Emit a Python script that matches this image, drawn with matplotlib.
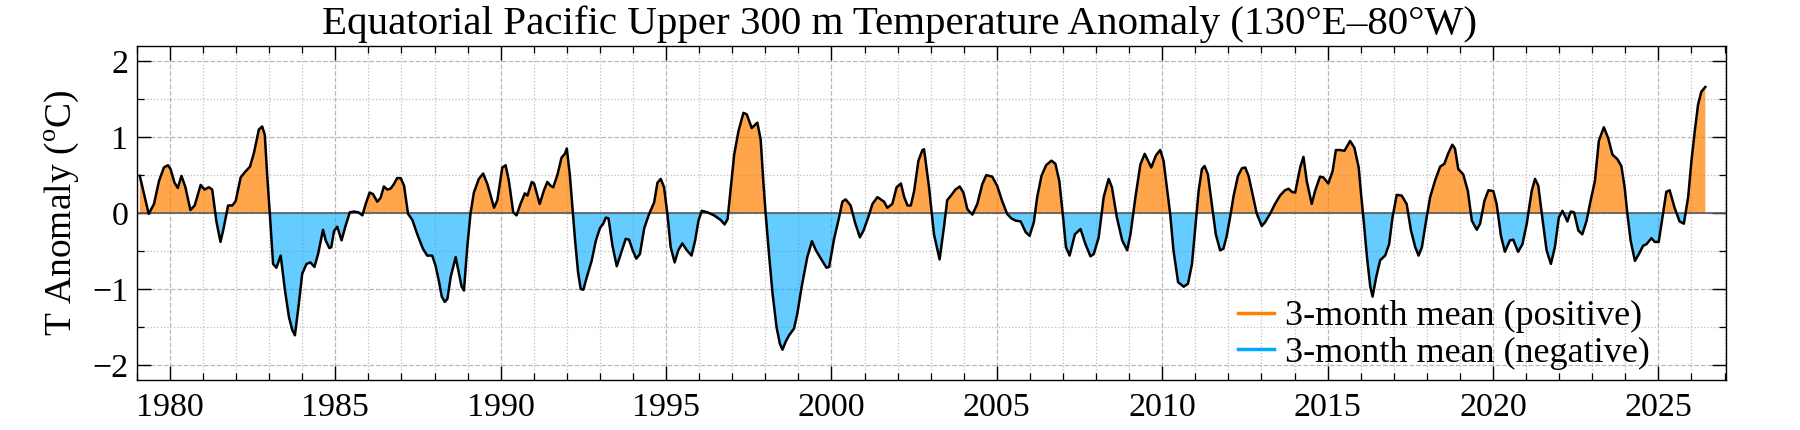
import numpy as np
import matplotlib
matplotlib.use('Agg')
from matplotlib import pyplot as plt
from matplotlib.lines import Line2D
from matplotlib.ticker import MultipleLocator

plt.rcParams['font.family'] = ['Liberation Serif', 'DejaVu Serif']
plt.rcParams['mathtext.fontset'] = 'custom'
plt.rcParams['mathtext.rm'] = 'Liberation Serif'

# 3-month mean anomaly (deg C)
year = [
    1979.09, 1979.36, 1979.52, 1979.67, 1979.82, 1979.94, 1980.02, 1980.14, 1980.24, 1980.35,
    1980.47, 1980.62, 1980.75, 1980.93, 1981.05, 1981.18, 1981.28, 1981.41, 1981.53, 1981.63,
    1981.76, 1981.89, 1981.99, 1982.14, 1982.29, 1982.42, 1982.54, 1982.69, 1982.79, 1982.87,
    1982.94, 1983.02, 1983.12, 1983.22, 1983.35, 1983.48, 1983.60, 1983.70, 1983.78, 1983.90,
    1984.00, 1984.13, 1984.25, 1984.37, 1984.48, 1984.63, 1984.71, 1984.82, 1984.88, 1984.96,
    1985.06, 1985.19, 1985.31, 1985.44, 1985.56, 1985.70, 1985.82, 1985.92, 1986.04, 1986.14,
    1986.27, 1986.37, 1986.47, 1986.57, 1986.67, 1986.77, 1986.87, 1986.98, 1987.08, 1987.20,
    1987.33, 1987.48, 1987.65, 1987.78, 1987.93, 1988.03, 1988.13, 1988.22, 1988.31, 1988.39,
    1988.49, 1988.64, 1988.74, 1988.82, 1988.89, 1988.99, 1989.09, 1989.19, 1989.34, 1989.47,
    1989.60, 1989.80, 1989.90, 1990.05, 1990.15, 1990.25, 1990.38, 1990.48, 1990.60, 1990.73,
    1990.81, 1990.94, 1991.01, 1991.18, 1991.31, 1991.41, 1991.51, 1991.59, 1991.72, 1991.84,
    1991.94, 1992.00, 1992.09, 1992.17, 1992.25, 1992.34, 1992.42, 1992.50, 1992.62, 1992.75,
    1992.88, 1993.00, 1993.10, 1993.18, 1993.26, 1993.38, 1993.51, 1993.63, 1993.78, 1993.88,
    1994.00, 1994.10, 1994.21, 1994.34, 1994.49, 1994.64, 1994.74, 1994.84, 1994.94, 1995.04,
    1995.14, 1995.26, 1995.37, 1995.49, 1995.63, 1995.77, 1995.88, 1995.98, 1996.08, 1996.25,
    1996.45, 1996.65, 1996.77, 1996.86, 1996.96, 1997.06, 1997.19, 1997.34, 1997.44, 1997.59,
    1997.76, 1997.86, 1997.94, 1998.01, 1998.12, 1998.22, 1998.34, 1998.44, 1998.52, 1998.62,
    1998.72, 1998.87, 1998.97, 1999.10, 1999.27, 1999.41, 1999.53, 1999.68, 1999.85, 1999.93,
    2000.08, 2000.23, 2000.33, 2000.43, 2000.58, 2000.71, 2000.86, 2000.97, 2001.11, 2001.24,
    2001.39, 2001.49, 2001.59, 2001.69, 2001.84, 2001.97, 2002.10, 2002.20, 2002.30, 2002.40,
    2002.50, 2002.63, 2002.75, 2002.80, 2002.90, 2002.95, 2003.10, 2003.27, 2003.40, 2003.50,
    2003.63, 2003.75, 2003.88, 2003.99, 2004.11, 2004.26, 2004.41, 2004.56, 2004.68, 2004.86,
    2005.01, 2005.16, 2005.31, 2005.44, 2005.57, 2005.72, 2005.87, 2005.99, 2006.12, 2006.22,
    2006.35, 2006.49, 2006.65, 2006.77, 2006.89, 2006.99, 2007.09, 2007.20, 2007.36, 2007.53,
    2007.68, 2007.83, 2007.93, 2008.08, 2008.23, 2008.38, 2008.48, 2008.63, 2008.79, 2008.94,
    2009.04, 2009.19, 2009.34, 2009.47, 2009.57, 2009.67, 2009.81, 2009.94, 2010.04, 2010.14,
    2010.24, 2010.34, 2010.48, 2010.65, 2010.78, 2010.90, 2011.00, 2011.10, 2011.20, 2011.28,
    2011.38, 2011.50, 2011.62, 2011.75, 2011.85, 2011.95, 2012.05, 2012.16, 2012.29, 2012.41,
    2012.51, 2012.61, 2012.71, 2012.86, 2013.01, 2013.11, 2013.26, 2013.41, 2013.56, 2013.71,
    2013.82, 2013.92, 2014.02, 2014.17, 2014.27, 2014.37, 2014.52, 2014.62, 2014.77, 2014.87,
    2015.02, 2015.15, 2015.25, 2015.38, 2015.51, 2015.68, 2015.81, 2015.94, 2016.02, 2016.09,
    2016.19, 2016.29, 2016.36, 2016.47, 2016.59, 2016.74, 2016.86, 2016.96, 2017.09, 2017.24,
    2017.39, 2017.52, 2017.65, 2017.75, 2017.85, 2017.97, 2018.10, 2018.25, 2018.40, 2018.53,
    2018.65, 2018.77, 2018.85, 2018.95, 2019.10, 2019.24, 2019.36, 2019.51, 2019.61, 2019.74,
    2019.86, 2020.01, 2020.11, 2020.24, 2020.36, 2020.51, 2020.61, 2020.76, 2020.89, 2021.02,
    2021.17, 2021.27, 2021.37, 2021.49, 2021.62, 2021.75, 2021.87, 2021.99, 2022.10, 2022.25,
    2022.35, 2022.45, 2022.58, 2022.70, 2022.83, 2022.93, 2023.08, 2023.20, 2023.35, 2023.48,
    2023.61, 2023.76, 2023.88, 2023.98, 2024.06, 2024.16, 2024.29, 2024.41, 2024.54, 2024.64,
    2024.79, 2024.89, 2025.01, 2025.12, 2025.24, 2025.34, 2025.49, 2025.64, 2025.77, 2025.90,
    2026.00, 2026.10, 2026.20, 2026.30, 2026.42,
]
anom = [
    0.49, -0.01, 0.12, 0.42, 0.60, 0.63, 0.58, 0.40, 0.33, 0.49,
    0.34, 0.04, 0.10, 0.37, 0.31, 0.34, 0.31, -0.12, -0.38, -0.19,
    0.10, 0.10, 0.16, 0.47, 0.55, 0.61, 0.79, 1.10, 1.14, 1.03,
    0.51, 0.00, -0.67, -0.72, -0.56, -1.02, -1.37, -1.54, -1.61, -1.19,
    -0.80, -0.67, -0.65, -0.71, -0.54, -0.22, -0.36, -0.46, -0.45, -0.24,
    -0.18, -0.36, -0.17, 0.01, 0.02, 0.01, -0.03, 0.12, 0.27, 0.25,
    0.15, 0.20, 0.35, 0.31, 0.32, 0.38, 0.46, 0.46, 0.36, -0.01,
    -0.09, -0.28, -0.47, -0.56, -0.56, -0.69, -0.89, -1.10, -1.17, -1.13,
    -0.84, -0.58, -0.80, -0.97, -1.02, -0.45, 0.00, 0.27, 0.45, 0.52,
    0.38, 0.07, 0.17, 0.60, 0.63, 0.42, 0.01, -0.03, 0.12, 0.26,
    0.23, 0.41, 0.39, 0.12, 0.30, 0.41, 0.36, 0.34, 0.51, 0.73,
    0.78, 0.85, 0.51, 0.07, -0.36, -0.78, -1.00, -1.01, -0.82, -0.63,
    -0.36, -0.20, -0.14, -0.06, -0.07, -0.43, -0.70, -0.54, -0.34, -0.35,
    -0.50, -0.60, -0.54, -0.20, -0.01, 0.14, 0.40, 0.45, 0.34, -0.01,
    -0.45, -0.65, -0.49, -0.40, -0.49, -0.56, -0.36, -0.10, 0.03, 0.01,
    -0.03, -0.09, -0.15, -0.08, 0.34, 0.77, 1.08, 1.32, 1.30, 1.12,
    1.19, 0.97, 0.42, 0.00, -0.58, -1.06, -1.50, -1.72, -1.80, -1.69,
    -1.61, -1.52, -1.32, -0.97, -0.58, -0.37, -0.49, -0.60, -0.72, -0.71,
    -0.34, -0.06, 0.15, 0.18, 0.10, -0.12, -0.32, -0.23, -0.06, 0.12,
    0.21, 0.18, 0.15, 0.07, 0.12, 0.34, 0.39, 0.21, 0.10, 0.10,
    0.29, 0.69, 0.83, 0.84, 0.51, 0.34, -0.28, -0.61, -0.19, 0.17,
    0.24, 0.31, 0.35, 0.27, 0.05, -0.02, 0.12, 0.38, 0.50, 0.48,
    0.36, 0.16, -0.01, -0.07, -0.10, -0.11, -0.25, -0.30, -0.12, 0.21,
    0.49, 0.63, 0.69, 0.65, 0.42, 0.00, -0.45, -0.56, -0.28, -0.21,
    -0.41, -0.57, -0.54, -0.32, 0.21, 0.45, 0.34, -0.06, -0.36, -0.49,
    -0.28, 0.21, 0.64, 0.78, 0.69, 0.60, 0.76, 0.83, 0.69, 0.34,
    -0.01, -0.49, -0.91, -0.97, -0.93, -0.67, -0.19, 0.29, 0.58, 0.62,
    0.51, 0.12, -0.28, -0.49, -0.47, -0.30, -0.06, 0.23, 0.49, 0.59,
    0.60, 0.49, 0.29, -0.01, -0.17, -0.12, -0.01, 0.12, 0.23, 0.30,
    0.32, 0.28, 0.27, 0.60, 0.74, 0.42, 0.12, 0.29, 0.48, 0.47,
    0.39, 0.55, 0.83, 0.83, 0.82, 0.95, 0.86, 0.60, 0.21, -0.10,
    -0.58, -0.97, -1.10, -0.84, -0.62, -0.56, -0.41, -0.06, 0.24, 0.23,
    0.12, -0.23, -0.45, -0.56, -0.45, -0.12, 0.21, 0.43, 0.61, 0.65,
    0.79, 0.90, 0.85, 0.58, 0.51, 0.29, -0.10, -0.22, -0.14, 0.16,
    0.30, 0.29, 0.12, -0.30, -0.51, -0.36, -0.35, -0.51, -0.41, -0.14,
    0.29, 0.45, 0.36, -0.06, -0.49, -0.67, -0.45, -0.06, 0.03, -0.11,
    0.02, 0.01, -0.23, -0.28, -0.10, 0.12, 0.42, 0.95, 1.13, 0.99,
    0.77, 0.71, 0.62, 0.34, 0.00, -0.36, -0.63, -0.54, -0.43, -0.41,
    -0.33, -0.38, -0.38, -0.06, 0.28, 0.30, 0.07, -0.11, -0.14, 0.21,
    0.69, 1.08, 1.43, 1.60, 1.66,
]

title = 'Equatorial Pacific Upper 300 m Temperature Anomaly (130\u00b0E\u201380\u00b0W)'
pos_color = '#ff8000'
neg_color = '#00aaff'

t = np.array(year)
v = np.array(anom)

fig = plt.figure(figsize=(18, 4.3), dpi=100)
ax = fig.add_axes([0.076, 0.116, 0.883, 0.777])

ax.fill_between(t, v, 0, where=v >= 0, interpolate=True, color=pos_color, alpha=0.7, lw=0)
ax.fill_between(t, v, 0, where=v <= 0, interpolate=True, color=neg_color, alpha=0.6, lw=0)
ax.axhline(0, color='0.35', lw=1.2, zorder=2)
ax.plot(t, v, color='black', lw=1.8, zorder=3)

ax.set_xlim(1979.0, 2027.05)
ax.set_ylim(-2.2, 2.2)
ax.xaxis.set_major_locator(MultipleLocator(5))
ax.xaxis.set_minor_locator(MultipleLocator(1))
ax.yaxis.set_major_locator(MultipleLocator(1))
ax.yaxis.set_minor_locator(MultipleLocator(0.5))
ax.tick_params(which='both', direction='in', top=True, right=True, labelsize=24.5)
ax.tick_params(which='major', length=10, width=1.0)
ax.tick_params(which='minor', length=5, width=0.9)
ax.tick_params(axis='x', pad=9)
ax.tick_params(axis='y', pad=6)
ax.grid(which='major', ls='--', color='0.72', lw=0.9)
ax.grid(which='minor', ls=':', color='0.75', lw=0.9)
ax.set_axisbelow(True)
for s in ax.spines.values():
    s.set_linewidth(1.0)

ax.set_ylabel(r'T Anomaly ($^{\mathrm{o}}$C)', fontsize=27, labelpad=8)
fig.text(0.5, 1 - 34 / 430, title, ha='center', va='baseline', fontsize=29.5)

handles = [Line2D([], [], color=pos_color, lw=2.5),
           Line2D([], [], color=neg_color, lw=2.5)]
ax.legend(handles, ['3-month mean (positive)', '3-month mean (negative)'],
          loc='lower right', bbox_to_anchor=(0.952, 0.03), frameon=False,
          fontsize=26, handlelength=1.0, handletextpad=0.3,
          labelspacing=0.1, borderpad=0, borderaxespad=0)

plt.savefig('out.png', dpi=100)
